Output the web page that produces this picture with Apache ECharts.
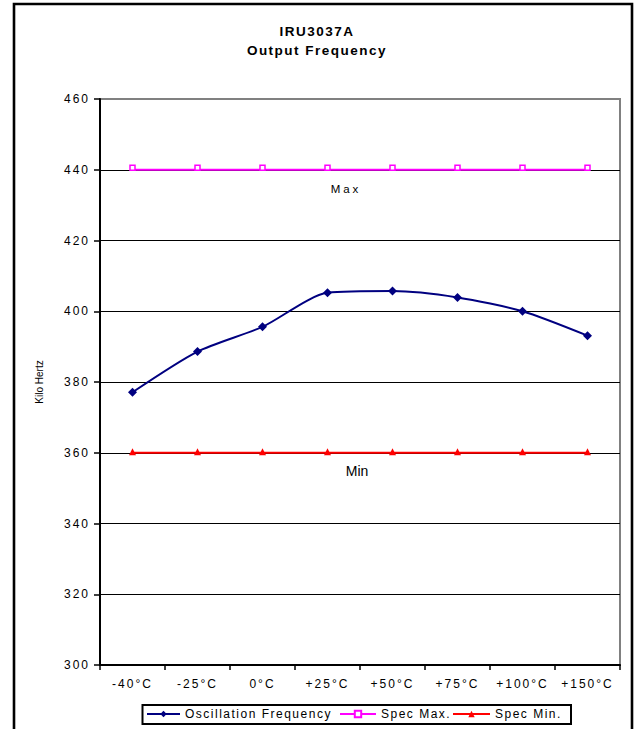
<!DOCTYPE html>
<html><head><meta charset="utf-8">
<script src="https://cdn.jsdelivr.net/npm/echarts@6/dist/echarts.min.js"></script>
<style>
html,body{margin:0;padding:0;background:#fff;overflow:hidden}
#c{width:634px;height:729px}
#c text[style*="zspA"]{letter-spacing:1px}
#c text[style*="zspB"]{letter-spacing:1.5px}
#c text[style*="zspC"]{letter-spacing:2px}
#c text[style*="zspD"]{letter-spacing:3px}
</style></head><body><div id="c"></div>
<script>
const titleLines = ['IRU3037A', 'Output Frequency'];
const categories = ['-40°C', '-25°C', '0°C', '+25°C', '+50°C', '+75°C', '+100°C', '+150°C'];
const oscillationFrequency = [377.1, 388.6, 395.6, 405.2, 405.7, 403.9, 400.0, 393.1];
const specMax = [440, 440, 440, 440, 440, 440, 440, 440];
const specMin = [360, 360, 360, 360, 360, 360, 360, 360];
const yMin = 300, yMax = 460, yStep = 20;
const seriesNames = ['Oscillation Frequency', 'Spec Max.', 'Spec Min.'];
const yAxisName = 'Kilo Hertz';
const annotations = ['Max', 'Min'];

const F = 'Liberation Sans';
const chart = echarts.init(document.getElementById('c'), null, {renderer: 'svg'});
const splitColors = [];
for (let v = yMin; v <= yMax; v += yStep) splitColors.push(v === yMax ? '#808080' : '#000');

chart.setOption({
  animation: false,
  backgroundColor: '#fff',
  title: {
    text: titleLines.join('\n'),
    left: 'center', top: 17,
    textStyle: {fontFamily: F + ', zspB', fontWeight: 'bold', fontSize: 13.5, color: '#000', lineHeight: 19}
  },
  grid: {left: 100, right: 14, top: 99, bottom: 64, show: true, borderColor: '#808080', borderWidth: 2, backgroundColor: 'transparent'},
  xAxis: {
    type: 'category', data: categories, boundaryGap: true,
    axisLine: {lineStyle: {color: '#000', width: 2}},
    axisTick: {show: true, alignWithLabel: false, length: 5, lineStyle: {color: '#000', width: 1.5}},
    axisLabel: {interval: 0, margin: 13, fontSize: 12, fontFamily: F + ', zspC', color: '#000'},
    splitLine: {show: false}
  },
  yAxis: {
    type: 'value', min: yMin, max: yMax, interval: yStep,
    name: yAxisName, nameLocation: 'middle', nameGap: 56,
    nameTextStyle: {fontSize: 10, fontFamily: F, color: '#000'},
    axisLine: {show: true, lineStyle: {color: '#000', width: 2}},
    axisTick: {show: true, length: 6, lineStyle: {color: '#000', width: 1.5}},
    axisLabel: {margin: 10, fontSize: 12, fontFamily: F + ', zspC', color: '#000'},
    splitLine: {show: true, lineStyle: {color: splitColors, width: 1}}
  },
  legend: [
    {data: [seriesNames[0]], left: 146, top: 708, padding: 0, itemWidth: 33, itemHeight: 8,
     textStyle: {fontSize: 12, fontFamily: F + ', zspB', color: '#000'}},
    {data: [seriesNames[1]], left: 339, top: 708, padding: 0, itemWidth: 36, itemHeight: 8,
     textStyle: {fontSize: 12, fontFamily: F + ', zspB', color: '#000'}},
    {data: [seriesNames[2]], left: 452, top: 708, padding: 0, itemWidth: 37, itemHeight: 8,
     textStyle: {fontSize: 12, fontFamily: F + ', zspB', color: '#000'}}
  ],
  graphic: [
    {type: 'rect', shape: {x: 14, y: 4, width: 618, height: 780}, style: {fill: 'none', stroke: '#000', lineWidth: 2.6}, silent: true, z: 100},
    {type: 'rect', shape: {x: 142.5, y: 705, width: 428.5, height: 19}, style: {fill: '#fff', stroke: '#000', lineWidth: 2}, silent: true, z: -1},
    {type: 'text', x: 346, y: 189, style: {text: annotations[0], fontSize: 11.5, fontFamily: F + ', zspD', fill: '#000', textAlign: 'center', textVerticalAlign: 'middle'}, silent: true},
    {type: 'text', x: 357, y: 471, style: {text: annotations[1], fontSize: 14, fontFamily: F, fill: '#000', textAlign: 'center', textVerticalAlign: 'middle'}, silent: true}
  ],
  series: [
    {name: seriesNames[0], type: 'line', data: oscillationFrequency, smooth: 0.25,
     symbol: 'diamond', symbolSize: 9, showAllSymbol: true,
     lineStyle: {color: '#000080', width: 2}, itemStyle: {color: '#000080'}, z: 4},
    {name: seriesNames[1], type: 'line', data: specMax,
     symbol: 'rect', symbolSize: 5, symbolOffset: [0, -2], showAllSymbol: true,
     lineStyle: {color: '#FF00FF', width: 2}, itemStyle: {color: '#fff', borderColor: '#FF00FF', borderWidth: 1.5}, z: 3},
    {name: seriesNames[2], type: 'line', data: specMin,
     symbol: 'triangle', symbolSize: 7, symbolOffset: [0, -1], showAllSymbol: true,
     lineStyle: {color: '#FF0000', width: 2}, itemStyle: {color: '#FF0000'}, z: 3}
  ]
});
</script></body></html>
